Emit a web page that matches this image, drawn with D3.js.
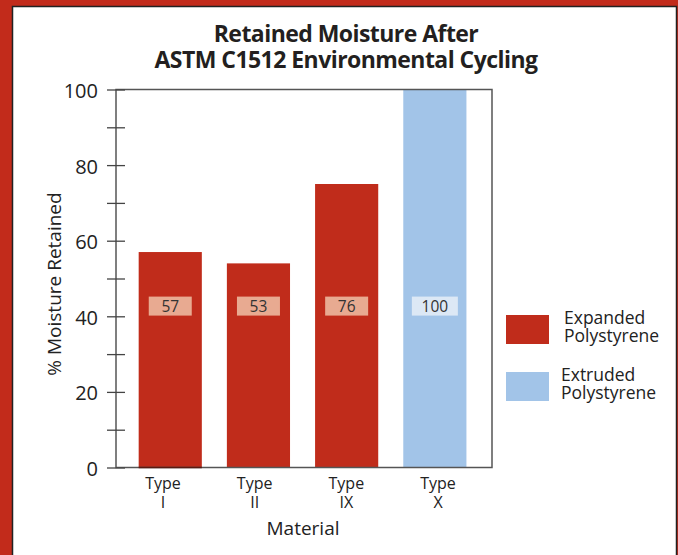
<!DOCTYPE html>
<html><head><meta charset="utf-8">
<script src="https://cdn.jsdelivr.net/npm/d3@7"></script>
<style>html,body{margin:0;padding:0;background:#C22B1B;} svg{display:block;}</style>
</head><body>
<script>
const categories = ["Type I", "Type II", "Type IX", "Type X"];
const tickLines = [["Type","I"],["Type","II"],["Type","IX"],["Type","X"]];
const values = [57, 54, 75, 100];
const valueLabels = ["57", "53", "76", "100"];
const series = ["Expanded Polystyrene", "Expanded Polystyrene", "Expanded Polystyrene", "Extruded Polystyrene"];
const legendNames = [["Expanded","Polystyrene"],["Extruded","Polystyrene"]];
const yTicks = [0, 20, 40, 60, 80, 100];
const yMinorTicks = [10, 30, 50, 70, 90];
const titleLines = ["Retained Moisture After", "ASTM C1512 Environmental Cycling"];

(function () {
const W = 678, H = 555;
const font = "'Open Sans', 'DejaVu Sans', sans-serif";
const colors = {"Expanded Polystyrene": "#C02C1B", "Extruded Polystyrene": "#A2C4E8"};
const labelBg = {"Expanded Polystyrene": "#E8AA91", "Extruded Polystyrene": "#DCE8F5"};

const svg = d3.select("body").append("svg").attr("width", W).attr("height", H);
svg.append("rect").attr("width", W).attr("height", H).attr("fill", "#C22B1B");
svg.append("rect").attr("x", 12.5).attr("y", 6.5).attr("width", 664).attr("height", 560)
  .attr("fill", "#fff").attr("stroke", "#222").attr("stroke-width", 1.5);

const pL = 116, pR = 492, pT = 89.5, pB = 467.5;
const x = d3.scaleBand().domain(categories).range([pL, pR]).paddingInner(0.284).paddingOuter(0.2735).align(0.47);
const xLab = d3.scalePoint().domain(categories).range([163, 438]);
const y = d3.scaleLinear().domain([0, 100]).range([pB, pT]);

// title
svg.append("g").selectAll("text").data(titleLines).join("text")
  .attr("x", 346).attr("y", (d, i) => 42 + i * 26)
  .attr("text-anchor", "middle").attr("font-family", font).attr("font-weight", "bold")
  .attr("font-size", 23).attr("fill", "#231f20").attr("letter-spacing", -0.55).text(d => d);

// bars
svg.append("g").selectAll("rect").data(categories).join("rect")
  .attr("x", d => x(d)).attr("width", x.bandwidth())
  .attr("y", (d, i) => y(values[i])).attr("height", (d, i) => y(0) - y(values[i]))
  .attr("fill", (d, i) => colors[series[i]]);

// value labels
const lbl = svg.append("g").selectAll("g").data(categories).join("g")
  .attr("transform", d => `translate(${x(d) + x.bandwidth() / 2},${y(42.7)})`);
lbl.append("rect").attr("x", (d, i) => valueLabels[i].length > 2 ? -23 : -21.5)
  .attr("width", (d, i) => valueLabels[i].length > 2 ? 46 : 43)
  .attr("y", -9.5).attr("height", 19).attr("fill", (d, i) => labelBg[series[i]]);
lbl.append("text").attr("text-anchor", "middle").attr("y", 5.5).attr("font-family", font)
  .attr("font-size", 15.5).attr("fill", "#333").text((d, i) => valueLabels[i]);

// frame
svg.append("rect").attr("x", pL).attr("y", pT).attr("width", pR - pL).attr("height", pB - pT)
  .attr("fill", "none").attr("stroke", "#555").attr("stroke-width", 1.5);
svg.append("line").attr("x1", x(categories[0])).attr("x2", x(categories[0]) + x.bandwidth())
  .attr("y1", pB).attr("y2", pB).attr("stroke", "#5a1a12").attr("stroke-width", 1.5);

// y axis
const yAxis = d3.axisLeft(y).tickValues(yTicks).tickSize(9).tickPadding(9);
const ga = svg.append("g").attr("transform", `translate(${pL},0)`).call(yAxis);
ga.select(".domain").remove();
ga.selectAll(".tick line").attr("x2", -9).attr("x1", 9).attr("stroke", "#444").attr("stroke-width", 1.3);
ga.selectAll(".tick text").attr("font-family", font).attr("font-size", 20).attr("fill", "#222").attr("x", -18).attr("dy", "0.4em");
const gm = svg.append("g").attr("transform", `translate(${pL},0)`)
  .call(d3.axisLeft(y).tickValues(yMinorTicks).tickSize(9).tickFormat(""));
gm.select(".domain").remove();
gm.selectAll(".tick line").attr("x2", -9).attr("x1", 9).attr("stroke", "#444").attr("stroke-width", 1.3);

// x labels
const xl = svg.append("g").selectAll("text").data(categories).join("text")
  .attr("x", d => xLab(d)).attr("y", 489)
  .attr("text-anchor", "middle").attr("font-family", font).attr("font-size", 16).attr("fill", "#222");
xl.selectAll("tspan").data((d, i) => tickLines[i]).join("tspan")
  .attr("x", function () { return this.parentNode.getAttribute("x"); })
  .attr("dy", (d, j) => j === 0 ? 0 : 19).text(d => d);

svg.append("text").attr("x", 303).attr("y", 535).attr("text-anchor", "middle")
  .attr("font-family", font).attr("font-size", 19).attr("fill", "#222").text("Material");
svg.append("text").attr("transform", "translate(61,284) rotate(-90)").attr("text-anchor", "middle")
  .attr("font-family", font).attr("font-size", 19).attr("fill", "#222").text("% Moisture Retained");

// legend
const lg = svg.append("g").selectAll("g").data(legendNames).join("g")
  .attr("transform", (d, i) => `translate(506,${315 + i * 57})`);
lg.append("rect").attr("width", 43).attr("height", 29).attr("fill", (d, i) => colors[i === 0 ? "Expanded Polystyrene" : "Extruded Polystyrene"]);
const lt = lg.append("text").attr("font-family", font).attr("font-size", 17.5).attr("fill", "#222");
lt.selectAll("tspan").data(d => d).join("tspan")
  .attr("x", 0).attr("dy", (d, j) => j === 0 ? 9 : 17.5).text(d => d);
lt.attr("transform", (d, i) => `translate(${i === 0 ? 58 : 55},0)`);
})();
</script>
</body></html>
